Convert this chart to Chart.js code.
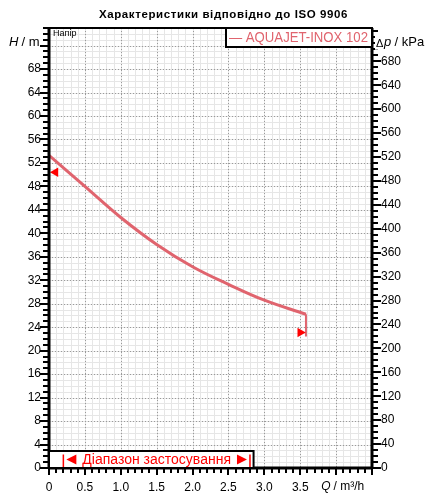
<!DOCTYPE html>
<html>
<head>
<meta charset="utf-8">
<script src="https://cdn.jsdelivr.net/npm/chart.js@4.4.1/dist/chart.umd.min.js"></script>
<style>
  html, body { margin: 0; padding: 0; background: #fff; }
  #wrap { width: 447px; height: 495px; }
</style>
</head>
<body>
<div id="wrap"><canvas id="chartPompa"></canvas></div>
<script>
// curva H(Q)
const flowQ = [0, 0.5, 1, 1.5, 2, 2.5, 3, 3.58];
const headH = [53.3, 48.0, 42.7, 38.1, 34.3, 31.3, 28.6, 26.2];
// traço vertical no fim da curva
const endQ = [3.58, 3.58];
const endH = [26.2, 22.4];
// marcadores triangulares
const markerQ = [0.09, 3.50];
const markerH = [50.4, 23.1];
const markerRot = [270, 90];
// faixa de aplicação
const rangeQ = [0.2, 2.8];
const rangeBoxQ = 2.85;
// ticks
const qTicks = [0, 0.5, 1, 1.5, 2, 2.5, 3, 3.5];
const hTicks = [0, 4, 8, 12, 16, 20, 24, 28, 32, 36, 40, 44, 48, 52, 56, 60, 64, 68];
const pTicks = [0, 40, 80, 120, 160, 200, 240, 280, 320, 360, 400, 440, 480, 520, 560, 600, 640, 680];

const KPA = 9.81;
const hMax = 75, qMax = 4.5;
const curveColor = '#e0646e';
const FONT = "'Liberation Sans', Arial, sans-serif";

const frame = {
    id: 'frame',
    beforeDatasetsDraw(chart) {
        const { ctx: c, chartArea: a, scales: { x, y } } = chart;
        c.save();
        // grade fina
        c.strokeStyle = '#e6e6e6';
        c.lineWidth = 1;
        c.beginPath();
        for (let i = 1; i < qMax * 10; i++) {
            const px = Math.round(x.getPixelForValue(i / 10)) + 0.5;
            c.moveTo(px, a.top); c.lineTo(px, a.bottom);
        }
        for (let i = 1; i < hMax; i++) {
            const py = Math.round(y.getPixelForValue(i)) + 0.5;
            c.moveTo(a.left, py); c.lineTo(a.right, py);
        }
        c.stroke();
        // grade principal pontilhada
        c.strokeStyle = '#9a9a9a';
        c.setLineDash([1, 2]);
        c.beginPath();
        for (let v = 0.5; v < qMax; v += 0.5) {
            const px = Math.round(x.getPixelForValue(v)) + 0.5;
            c.moveTo(px, a.top); c.lineTo(px, a.bottom);
        }
        for (let v = 4; v < hMax; v += 4) {
            const py = Math.round(y.getPixelForValue(v)) + 0.5;
            c.moveTo(a.left, py); c.lineTo(a.right, py);
        }
        c.stroke();
        c.restore();
    },
    afterDraw(chart) {
        const { ctx: c, chartArea: a, scales: { x, y, y2 } } = chart;
        c.save();
        c.strokeStyle = '#000';

        // marcas dos eixos
        c.lineWidth = 2;
        c.beginPath();
        for (let i = 0; i <= hMax; i++) {
            const py = Math.round(y.getPixelForValue(i));
            c.moveTo(a.left, py); c.lineTo(a.left - (i % 4 === 0 ? 9 : 6), py);
        }
        for (let i = 0; i * 10 <= hMax * KPA; i++) {
            const py = Math.round(y2.getPixelForValue(i * 10));
            c.moveTo(a.right, py); c.lineTo(a.right + (i % 4 === 0 ? 9 : 6), py);
        }
        for (let i = 0; i <= qMax * 10; i++) {
            const px = Math.round(x.getPixelForValue(i / 10));
            c.moveTo(px, a.bottom); c.lineTo(px, a.bottom + (i % 5 === 0 ? 7 : 5));
        }
        c.stroke();

        // moldura
        c.lineWidth = 2;
        c.strokeRect(a.left, a.top, a.right - a.left, a.bottom - a.top);
        c.lineWidth = 3;
        c.beginPath();
        c.moveTo(a.left, a.top); c.lineTo(a.left, a.bottom + 1);
        c.moveTo(a.right, a.top); c.lineTo(a.right, a.bottom + 1);
        c.moveTo(a.left, a.bottom); c.lineTo(a.right, a.bottom);
        c.stroke();

        // legenda
        const lw = 146, lh = 19;
        c.fillStyle = '#fff';
        c.fillRect(a.right - lw, a.top, lw, lh);
        c.lineWidth = 2;
        c.strokeRect(a.right - lw, a.top, lw, lh);
        c.fillStyle = curveColor;
        c.font = '14px ' + FONT;
        c.textAlign = 'left';
        c.textBaseline = 'middle';
        c.fillText('— AQUAJET-INOX 102', a.right - lw + 3, a.top + lh / 2 + 1, lw - 7);

        // faixa de aplicação
        const bx = x.getPixelForValue(rangeBoxQ);
        const bh = 17;
        c.fillStyle = '#fff';
        c.fillRect(a.left, a.bottom - bh, bx - a.left, bh);
        c.lineWidth = 2;
        c.strokeRect(a.left, a.bottom - bh, bx - a.left, bh);
        const r0 = x.getPixelForValue(rangeQ[0]);
        const r1 = x.getPixelForValue(rangeQ[1]);
        const my = a.bottom - bh / 2;
        c.strokeStyle = '#ff0000';
        c.fillStyle = '#ff0000';
        c.lineWidth = 1.5;
        c.beginPath();
        c.moveTo(r0, my - 5); c.lineTo(r0, a.bottom - 1);
        c.moveTo(r1, my - 5); c.lineTo(r1, a.bottom - 1);
        c.stroke();
        c.beginPath();
        c.moveTo(r0 + 3, my); c.lineTo(r0 + 13, my - 5); c.lineTo(r0 + 13, my + 5); c.closePath();
        c.moveTo(r1 - 3, my); c.lineTo(r1 - 13, my - 5); c.lineTo(r1 - 13, my + 5); c.closePath();
        c.fill();
        c.font = '14px ' + FONT;
        c.textAlign = 'center';
        c.fillText('Діапазон застосування', (r0 + r1) / 2, my + 1);

        // textos
        c.fillStyle = '#000';
        c.font = 'bold 11.5px ' + FONT;
        c.textAlign = 'center';
        c.letterSpacing = '0.6px';
        c.fillText('Характеристики відповідно до ISO 9906', chart.width / 2, 15);
        c.letterSpacing = '0px';

        c.font = '9px ' + FONT;
        c.textAlign = 'left';
        c.fillText('Напір', a.left + 4, a.top + 6);

        const ly = y.getPixelForValue(72.5);
        c.font = 'italic 13px ' + FONT;
        c.fillText('H', 9, ly);
        c.font = '13px ' + FONT;
        c.fillText(' / m', 18, ly);

        // fundo branco sob o rótulo do eixo direito
        c.fillStyle = '#fff';
        c.fillRect(a.right + 3, ly - 7, 60, 14);
        c.fillStyle = '#000';
        c.font = '11px ' + FONT;
        c.fillText('Δ', a.right + 4, ly + 1);
        c.font = 'italic 13px ' + FONT;
        c.fillText('p', a.right + 12, ly);
        c.font = '13px ' + FONT;
        c.fillText(' / kPa', a.right + 19, ly);

        const qy = a.bottom + 19;
        const qx = x.getPixelForValue(3.75) + 3;
        c.font = 'italic 12px ' + FONT;
        c.fillText('Q', qx, qy);
        c.font = '12px ' + FONT;
        c.fillText(' / m³/h', qx + 9, qy);
        c.restore();
    }
};

new Chart(document.getElementById('chartPompa'), {
    type: 'scatter',
    data: {
        datasets: [
            {
                data: flowQ.map((q, i) => ({ x: q, y: headH[i] })),
                showLine: true,
                borderColor: curveColor,
                borderWidth: 3,
                pointRadius: 0,
                tension: 0.4,
                order: 2
            },
            {
                data: endQ.map((q, i) => ({ x: q, y: endH[i] })),
                showLine: true,
                borderColor: curveColor,
                borderWidth: 2,
                pointRadius: 0,
                order: 2
            },
            {
                data: markerQ.map((q, i) => ({ x: q, y: markerH[i] })),
                pointStyle: 'triangle',
                rotation: markerRot,
                pointRadius: 5.5,
                backgroundColor: '#ff0000',
                borderColor: '#ff0000',
                borderWidth: 0,
                order: 1
            }
        ]
    },
    plugins: [frame],
    options: {
        responsive: true,
        maintainAspectRatio: false,
        animation: false,
        layout: { padding: { top: 28, left: 0, right: 0, bottom: 0 } },
        plugins: {
            legend: { display: false },
            tooltip: { enabled: false }
        },
        scales: {
            x: {
                type: 'linear',
                position: 'bottom',
                min: 0,
                max: qMax,
                afterBuildTicks: s => { s.ticks = qTicks.map(v => ({ value: v })); },
                afterFit: s => { s.height = 27; },
                ticks: {
                    color: '#000',
                    padding: 12,
                    maxRotation: 0,
                    autoSkip: false,
                    font: { family: FONT, size: 12 }
                },
                grid: { display: false, drawTicks: false },
                border: { display: false }
            },
            y: {
                type: 'linear',
                position: 'left',
                min: 0,
                max: hMax,
                afterBuildTicks: s => { s.ticks = hTicks.map(v => ({ value: v })); },
                afterFit: s => { s.width = 49; },
                ticks: {
                    color: '#000',
                    padding: 8,
                    autoSkip: false,
                    font: { family: FONT, size: 12 }
                },
                grid: { display: false, drawTicks: false },
                border: { display: false }
            },
            y2: {
                type: 'linear',
                position: 'right',
                min: 0,
                max: hMax * KPA,
                afterBuildTicks: s => { s.ticks = pTicks.map(v => ({ value: v })); },
                afterFit: s => { s.width = 75; },
                ticks: {
                    color: '#000',
                    padding: 9,
                    autoSkip: false,
                    font: { family: FONT, size: 12 }
                },
                grid: { display: false, drawTicks: false },
                border: { display: false }
            }
        }
    }
});
</script>
</body>
</html>
